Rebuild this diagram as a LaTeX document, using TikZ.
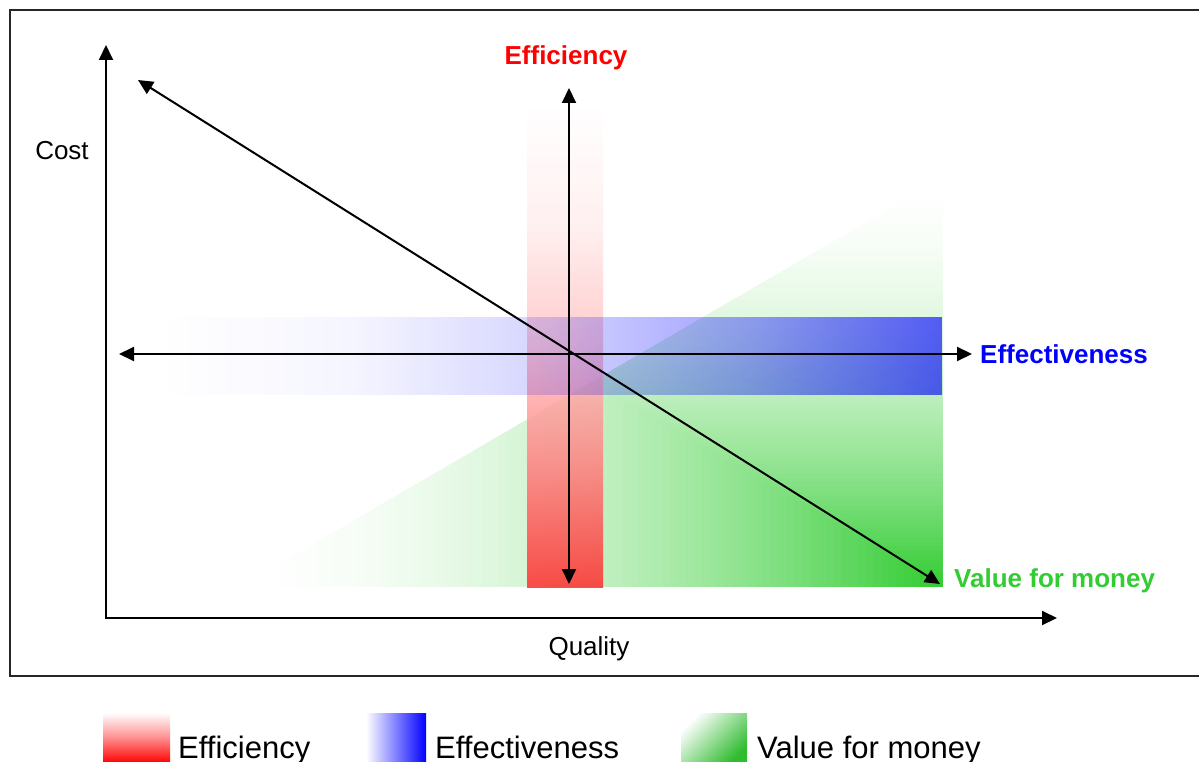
\documentclass[tikz,border=0pt]{standalone}
\usepackage{fontspec}
\setmainfont{Liberation Sans}
\usetikzlibrary{arrows.meta,fadings}

\definecolor{vfm}{RGB}{51,204,51}
\definecolor{effblue}{RGB}{0,0,255}
\definecolor{effred}{RGB}{255,0,0}
\definecolor{vfmtext}{RGB}{51,204,51}

% colour profile of the efficiency band (white at the top, red at the foot)
\pgfdeclareverticalshading{redbandshade}{100bp}{%
  color(0bp)=(effred!82!white); color(25bp)=(effred!82!white);
  color(37.5bp)=(effred!50!white); color(50bp)=(effred!24!white);
  color(62.5bp)=(effred!7!white); color(75bp)=(white);
  color(100bp)=(white)}

% opacity profile of the effectiveness band
\pgfdeclarehorizontalshading{blueband shade}{100bp}{%
  color(0bp)=(pgftransparent!100); color(25bp)=(pgftransparent!100);
  color(37.5bp)=(pgftransparent!96); color(50bp)=(pgftransparent!83);
  color(62.5bp)=(pgftransparent!63); color(75bp)=(pgftransparent!37);
  color(100bp)=(pgftransparent!37)}
\pgfdeclarefading{blueband}{\pgfuseshading{blueband shade}}

\tikzset{
  conn/.style={line width=2pt, {Triangle[length=15pt,width=14pt]}-{Triangle[length=15pt,width=14pt]}},
  axis/.style={line width=2pt, -{Triangle[length=15pt,width=14pt]}},
  lbl/.style={font=\fontsize{26}{30}\selectfont, inner sep=0pt},
  blbl/.style={font=\fontsize{26}{30}\selectfont\bfseries, inner sep=0pt},
  leg/.style={font=\fontsize{31}{36}\selectfont, inner sep=0pt, anchor=base west},
}

\begin{document}
\begin{tikzpicture}[x=1pt,y=-1pt]
\useasboundingbox (0,0) rectangle (1199,762);

% outer frame
\draw[line width=1.6pt, draw=black!85] (10,10) rectangle (1230,676);

% value-for-money wedge: corner gradient toward the lower right
\begin{scope}
  \clip (240,587) -- (943,178) -- (943,587) -- cycle;
  \foreach \i in {90,89,...,1} {
    \pgfmathsetmacro\t{\i/90}
    \pgfmathsetmacro\p{100*pow(1-\t+1/90,1.8)}
    \fill[vfm!\p!white] ({943-\t*703},{587-\t*409}) rectangle (943,587);
  }
\end{scope}

% efficiency band
\shade[shading=redbandshade, fill opacity=0.85] (527,105) rectangle (603,587);
% effectiveness band
\fill[effblue, path fading=blueband] (160,317) rectangle (943,395);

% axes
\coordinate (O) at (106,618);
\coordinate (ytop) at (106,45);
\coordinate (xend) at (1057,618);
\draw[axis] (O) -- (ytop);
\draw[axis] ([xshift=-1pt]O) -- (xend);

% connectors
\coordinate (vtop) at (569,88);
\coordinate (vbot) at (569,584);
\coordinate (hleft) at (119,354);
\coordinate (hright) at (972,354);
\coordinate (dtop) at (138,80);
\coordinate (dbot) at (940,584);
\draw[conn] (vbot) -- (vtop);
\draw[conn] (hleft) -- (hright);
\draw[conn] (dtop) -- (dbot);

% labels
\node[lbl, anchor=base] (cost) at (62,160) {Cost};
\node[lbl, anchor=base] (quality) at (589,655) {Quality};
\node[blbl, anchor=base, text=effred] (efficiency) at (566,65) {Efficiency};
\node[blbl, anchor=base west, text=effblue] (effectiveness) at (980,363) {Effectiveness};
\node[blbl, anchor=base west, text=vfmtext] (vfmlabel) at (954,587) {Value for money};

% legend
\shade[top color=white, bottom color=effred, middle color=effred!45!white] (103,713) rectangle (170,763);
\node[leg] (legeff) at (178,758) {Efficiency};
\shade[left color=white, right color=effblue] (366,713) rectangle (426,763);
\node[leg] (legeffect) at (435,758) {Effectiveness};
\shade[top color=white, bottom color=vfm!92!black, shading angle=45] (681,713) rectangle (747,763);
\node[leg] (legvfm) at (757,758) {Value for money};
\end{tikzpicture}
\end{document}
